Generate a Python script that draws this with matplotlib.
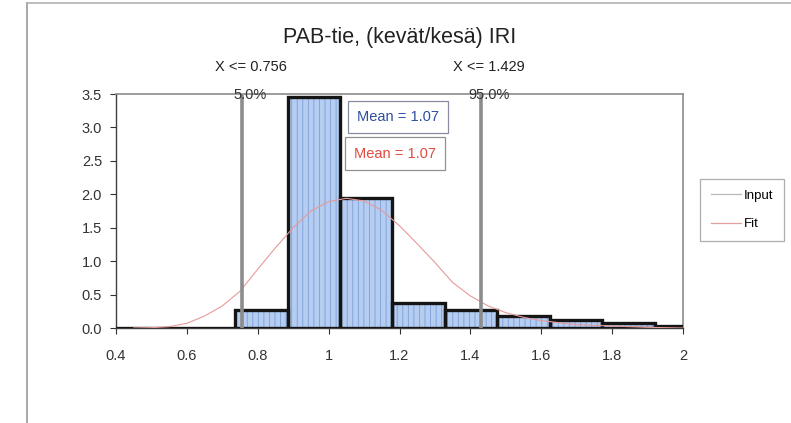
import matplotlib
matplotlib.use("Agg")
import matplotlib.pyplot as plt
from matplotlib.lines import Line2D
import numpy as np

plt.rcParams['font.family'] = ['Liberation Sans', 'DejaVu Sans']
plt.rcParams['hatch.linewidth'] = 0.6

# Histogram of input data (density)
bin_left = [0.736, 0.884, 1.032, 1.180, 1.328, 1.476, 1.624, 1.772, 1.920]
bin_width = 0.148
density = [0.27, 3.46, 1.94, 0.38, 0.27, 0.18, 0.12, 0.08, 0.03]

# Fitted curve
fit_x = [0.45, 0.50, 0.55, 0.60, 0.65, 0.70, 0.75, 0.80, 0.85, 0.90, 0.95,
         1.00, 1.05, 1.10, 1.15, 1.20, 1.25, 1.30, 1.35, 1.40, 1.45, 1.50,
         1.55, 1.60, 1.65, 1.70, 1.80, 1.90, 2.00]
fit_y = [0.00, 0.005, 0.02, 0.07, 0.18, 0.33, 0.55, 0.88, 1.20, 1.50, 1.75,
         1.89, 1.94, 1.90, 1.76, 1.53, 1.26, 0.98, 0.68, 0.48, 0.33, 0.23,
         0.16, 0.11, 0.08, 0.05, 0.03, 0.01, 0.00]

# Percentile markers and means
p5_x, p95_x = 0.756, 1.429
p5_lbl, p95_lbl = "5.0%", "95.0%"
input_mean = 1.07
fit_mean = 1.07

title = "PAB-tie, (kevät/kesä) IRI"
xticks = [0.4, 0.6, 0.8, 1.0, 1.2, 1.4, 1.6, 1.8, 2.0]
xtick_labels = ['0.4', '0.6', '0.8', '1', '1.2', '1.4', '1.6', '1.8', '2']
yticks = [0.0, 0.5, 1.0, 1.5, 2.0, 2.5, 3.0, 3.5]

fig = plt.figure(figsize=(7.91, 4.23), dpi=100)
ax = fig.add_axes([116 / 791, 1 - 328 / 423, (683 - 116) / 791, (328 - 94) / 423])
ax.set_xlim(0.4, 2.0)
ax.set_ylim(0, 3.5)

# filled, hatched bars
ax.bar(bin_left, density, width=bin_width, align='edge', color='#b4cdf0',
       edgecolor='#7d9ed8', hatch='|||', linewidth=0, zorder=2)
# bar outlines
ax.bar(bin_left, density, width=bin_width, align='edge', fill=False,
       edgecolor='#151515', linewidth=2.4, zorder=3, clip_on=True)
ax.plot([0.4, bin_left[0]], [0, 0], color='#151515', lw=2.4, zorder=3,
        solid_capstyle='butt')

# fitted curve
ax.plot(fit_x, fit_y, color='#e79a9a', lw=0.8, zorder=4)

# percentile lines
for px, top, bot in [(p5_x, f"X <= {p5_x:.3f}", p5_lbl),
                     (p95_x, f"X <= {p95_x:.3f}", p95_lbl)]:
    ax.axvline(px, color='#8c8c8c', lw=2.6, zorder=5)
    ax.annotate(top, xy=(px, 3.5), xytext=(6, 19.5), textcoords='offset points',
                ha='center', va='center', fontsize=10.5, color='#222222',
                annotation_clip=False)
    ax.annotate(bot, xy=(px, 3.5), xytext=(6, -1), textcoords='offset points',
                ha='center', va='center', fontsize=10.5, color='#333333',
                annotation_clip=False, zorder=6)

# mean boxes
ax.text(1.197, 3.154, f"Mean = {input_mean:.2f}", ha='center', va='center',
        fontsize=10.5, color='#2e4f9e', zorder=8,
        bbox=dict(boxstyle='square,pad=0.62', fc='white', ec='#8a8aa0', lw=0.9))
ax.text(1.187, 2.61, f"Mean = {fit_mean:.2f}", ha='center', va='center',
        fontsize=10.5, color='#e04a40', zorder=7,
        bbox=dict(boxstyle='square,pad=0.62', fc='white', ec='#909090', lw=0.9))

ax.set_xticks(xticks)
ax.set_xticklabels(xtick_labels)
ax.set_yticks(yticks)
ax.set_yticklabels([f"{v:.1f}" for v in yticks])
ax.tick_params(axis='both', labelsize=10.5, colors='#333333', length=4,
               width=0.8, direction='out')
ax.tick_params(axis='x', pad=11)
ax.tick_params(axis='y', pad=6)

for side in ['top', 'right']:
    ax.spines[side].set_color('#8c8c8c')
    ax.spines[side].set_linewidth(1.2)
ax.spines['left'].set_color('#404040')
ax.spines['left'].set_linewidth(1.0)
ax.spines['bottom'].set_color('#404040')
ax.spines['bottom'].set_linewidth(1.0)

fig.text(0.505, 1 - 37 / 423, title, ha='center', va='center', fontsize=15.5,
         color='#222222')

handles = [Line2D([], [], color='#b8b8b8', lw=0.9),
           Line2D([], [], color='#e3a0a0', lw=0.9)]
leg = fig.legend(handles, ['Input', 'Fit'], loc='center left',
                 bbox_to_anchor=(700 / 791, 1 - 210 / 423), fontsize=9.5,
                 frameon=True, fancybox=False, edgecolor='#9a9a9a',
                 handlelength=2.3, handletextpad=0.25, labelspacing=1.2,
                 borderpad=0.8, borderaxespad=0)
leg.get_frame().set_linewidth(0.9)

# outer chart frame
fig.add_artist(Line2D([27 / 791, 27 / 791], [0, 1 - 3 / 423],
                      transform=fig.transFigure, color='#9a9a9a', lw=1.2))
fig.add_artist(Line2D([27 / 791, 1], [1 - 3 / 423, 1 - 3 / 423],
                      transform=fig.transFigure, color='#b0b0b0', lw=1.2))

fig.savefig('out.png', dpi=100)
